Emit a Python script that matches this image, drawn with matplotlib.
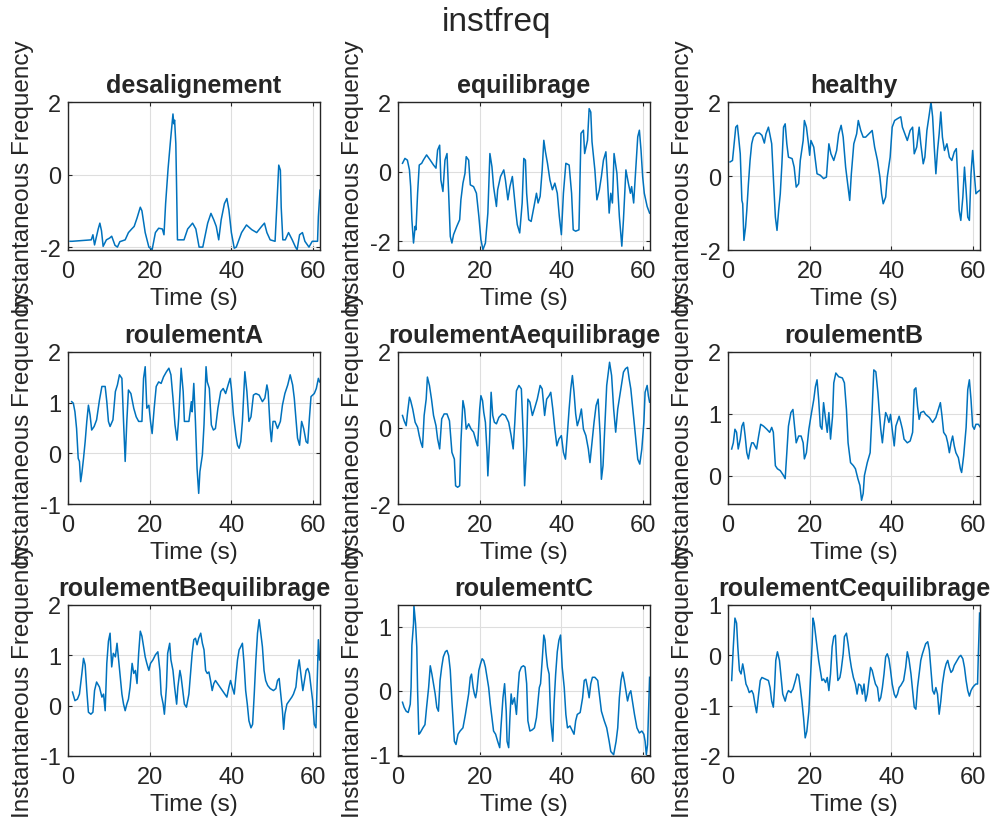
import matplotlib
matplotlib.use("Agg")
import matplotlib.pyplot as plt

# ===== data (time in s, instantaneous frequency) =====
desal_t = [0.5, 1.0, 5.7, 6.1, 6.5, 7.4, 7.8, 8.2, 8.6, 9.4, 10.2, 10.7, 11.5, 12.1, 12.7, 14.0, 14.8, 15.6, 16.2, 16.9,
           17.7, 18.1, 18.9, 19.8, 20.6, 21.4, 22.2, 23.1, 23.5, 23.9, 24.5, 25.1, 25.7, 25.9, 26.1, 26.4, 26.6, 26.8, 28.4, 29.3,
           30.5, 31.3, 32.1, 33.0, 34.2, 35.0, 35.7, 36.3, 36.9, 37.5, 38.3, 38.9, 39.4, 40.0, 40.7, 41.2, 42.5, 43.7, 45.0, 46.2,
           47.4, 48.1, 48.7, 49.5, 50.7, 51.2, 51.6, 52.0, 52.2, 52.6, 53.2, 54.0, 54.9, 55.7, 56.1, 56.7, 57.4, 58.0, 59.0, 59.8,
           61.1, 61.3, 61.7]
desal_v = [-1.84, -1.84, -1.80, -1.66, -1.94, -1.5, -1.34, -1.55, -1.98, -1.8, -1.75, -1.7, -1.95, -2.0, -1.85, -1.8, -1.6, -1.5, -1.43, -1.2,
           -0.9, -1.0, -1.6, -2.0, -2.07, -1.6, -1.48, -1.5, -1.66, -0.8, 0.16, 0.94, 1.67, 1.4, 1.5, 0.85, -0.43, -1.8, -1.8, -1.5,
           -1.34, -1.5, -2.0, -2.0, -1.34, -1.07, -1.25, -1.43, -1.8, -1.25, -0.8, -0.66, -0.98, -1.6, -2.03, -2.0, -1.6, -1.39, -1.52, -1.6,
           -1.43, -1.34, -1.6, -1.8, -1.84, -0.7, 0.26, 0.12, -0.9, -1.8, -1.8, -1.6, -1.8, -2.0, -2.07, -1.66, -1.6, -1.84, -2.0, -1.84,
           -1.84, -1.16, -0.43]

equil_t = [1.1, 1.7, 2.3, 2.8, 3.1, 3.4, 3.8, 4.2, 4.4, 4.8, 5.2, 5.8, 6.2, 7.0, 7.9, 8.7, 9.3, 9.7, 10.2, 10.5,
           11.0, 11.5, 12.0, 12.4, 12.8, 13.2, 13.6, 14.4, 15.1, 15.4, 15.9, 16.4, 16.7, 17.3, 17.7, 18.5, 19.2, 19.8, 20.3, 20.8,
           21.4, 22.0, 22.5, 23.0, 23.4, 24.1, 24.4, 25.1, 25.9, 26.3, 26.9, 27.4, 28.0, 28.4, 28.8, 29.2, 29.8, 30.4, 30.8, 31.2,
           31.5, 32.0, 32.6, 33.3, 33.9, 34.3, 34.8, 35.3, 35.7, 36.1, 36.6, 37.2, 37.8, 38.4, 39.0, 39.5, 40.0, 40.5, 41.1, 41.9,
           42.5, 42.9, 43.5, 44.3, 44.8, 45.4, 45.7, 46.4, 46.8, 47.2, 47.5, 48.2, 48.7, 49.3, 49.8, 50.3, 50.9, 51.3, 51.7, 52.1,
           52.5, 52.9, 53.6, 54.2, 54.8, 55.2, 55.8, 56.4, 56.9, 57.2, 57.7, 58.3, 58.7, 59.1, 59.5, 59.9, 60.3, 61.0, 61.6]
equil_v = [0.24, 0.38, 0.33, 0.05, -0.43, -1.38, -2.05, -1.57, -1.67, -0.62, 0.19, 0.24, 0.33, 0.48, 0.33, 0.19, 0.1, 0.62, 0.76, -0.24,
           -0.57, 0.33, 0.52, -0.62, -1.86, -2.05, -1.81, -1.57, -1.38, -0.81, -0.33, -0.05, 0.43, 0.33, -0.38, -0.43, -0.62, -1.29, -1.95, -2.24,
           -2.05, -1.19, 0.52, 0.14, -0.43, -1.0, -0.52, -0.14, 0.05, -0.24, -0.81, -0.43, -0.14, -0.62, -1.1, -1.52, -1.76, -0.9, 0.38, 0.33,
           -0.62, -1.38, -1.43, -1.0, -0.62, -0.9, -0.71, 0.05, 0.9, 0.57, 0.24, -0.24, -0.52, -0.33, -0.62, -1.29, -1.81, -0.62, 0.24, 0.19,
           -0.62, -1.67, -1.71, -1.67, 1.1, 1.19, 0.52, 0.9, 1.81, 1.71, 0.86, 0.05, -0.81, -0.52, -0.14, 0.33, 0.57, -0.24, -1.19, -0.62,
           -0.9, 0.52, -0.05, -1.29, -2.14, -1.38, 0.05, -0.33, -0.62, -0.43, -0.9, 0.24, 1.0, 1.19, 0.62, -0.14, -0.62, -1.0, -1.19]

healthy_t = [0.5, 1.1, 1.5, 1.9, 2.3, 2.6, 3.0, 3.4, 3.6, 3.9, 4.3, 4.6, 5.0, 5.4, 5.8, 6.2, 6.9, 7.7, 8.3, 8.9,
             9.3, 9.9, 10.3, 10.7, 11.1, 11.6, 12.0, 12.4, 12.8, 13.2, 13.6, 14.0, 14.4, 14.8, 15.7, 16.2, 16.7, 17.3, 17.7, 18.4,
             18.7, 19.2, 19.7, 20.0, 20.3, 21.0, 21.8, 22.6, 23.4, 24.1, 24.7, 25.2, 25.9, 26.6, 27.1, 27.7, 28.2, 28.8, 29.3, 29.8,
             30.2, 30.8, 31.5, 31.9, 32.5, 33.1, 33.7, 34.5, 35.3, 35.9, 36.6, 37.2, 37.6, 38.0, 38.6, 39.0, 39.7, 40.2, 40.8, 41.5,
             42.3, 42.7, 43.3, 43.9, 44.6, 45.2, 45.6, 46.2, 46.8, 47.2, 47.8, 48.2, 48.7, 49.3, 49.7, 50.1, 50.5, 50.9, 51.3, 51.7,
             52.1, 52.5, 53.0, 53.6, 54.2, 54.8, 55.4, 55.9, 56.2, 56.6, 57.0, 57.5, 57.9, 58.3, 58.7, 59.1, 59.5, 59.9, 60.3, 60.7,
             61.1, 61.6]
healthy_v = [0.38, 0.42, 0.87, 1.32, 1.37, 1.05, 0.6, -0.66, -0.75, -1.74, -1.38, -0.93, -0.21, 0.42, 0.87, 1.05, 1.16, 1.16, 1.1, 0.89,
             1.14, 1.32, 1.1, 0.87, -0.03, -1.11, -1.47, -0.93, -0.48, 0.33, 1.32, 1.41, 0.87, 0.51, 0.47, 0.24, -0.3, -0.21, 0.42, 0.96,
             1.5, 1.32, 0.87, 0.56, 0.96, 0.78, 0.06, 0.02, -0.07, -0.03, 0.87, 0.6, 0.42, 0.69, 1.14, 1.37, 1.05, 0.24, -0.21, -0.66,
             0.06, 0.87, 1.14, 1.5, 1.23, 1.05, 1.05, 1.14, 1.23, 0.78, 0.42, -0.03, -0.48, -0.75, -0.57, -0.03, 0.51, 1.32, 1.5, 1.55,
             1.6, 1.32, 1.14, 0.96, 1.23, 1.32, 0.6, 0.78, 1.32, 0.87, 0.33, 0.51, 1.23, 1.68, 2.0, 1.6, 0.78, 0.06, 0.69, 1.14,
             1.73, 1.05, 0.69, 0.87, 0.51, 0.42, 0.65, 0.74, 0.06, -0.93, -1.2, -0.57, 0.24, -0.39, -1.11, -1.2, 0.06, 0.69, 0.06, -0.48,
             -0.43, -0.39]

roulA_t = [0.9, 1.3, 1.7, 2.1, 2.5, 2.8, 3.1, 3.4, 3.8, 4.2, 4.6, 5.0, 5.4, 5.8, 6.4, 7.0, 7.7, 8.3, 9.1, 9.5,
           9.9, 10.3, 11.0, 11.6, 12.1, 12.6, 13.2, 13.6, 14.0, 14.4, 14.8, 15.4, 16.1, 16.7, 17.3, 18.1, 18.5, 18.9, 19.3, 19.8,
           20.2, 20.6, 21.1, 21.6, 22.2, 22.8, 23.4, 24.1, 24.7, 25.2, 25.7, 26.2, 26.7, 27.1, 27.7, 28.2, 28.5, 29.0, 29.6, 30.2,
           30.4, 30.8, 31.2, 31.6, 32.0, 32.3, 32.9, 33.3, 33.8, 34.1, 34.6, 35.1, 35.6, 36.1, 36.7, 37.4, 38.0, 38.6, 39.2, 39.7,
           40.0, 40.5, 41.1, 41.5, 41.9, 42.3, 42.7, 43.3, 43.8, 44.3, 44.8, 45.4, 46.0, 46.8, 47.6, 48.2, 48.7, 49.0, 49.5, 49.8,
           50.2, 50.7, 51.3, 52.0, 52.5, 53.1, 53.8, 54.4, 55.0, 55.4, 55.8, 56.2, 56.7, 57.2, 57.7, 58.3, 58.7, 59.1, 59.5, 60.3,
           60.8, 61.3, 61.6]
roulA_v = [1.02, 0.99, 0.82, 0.49, -0.1, -0.16, -0.56, -0.39, -0.1, 0.23, 0.63, 0.95, 0.76, 0.46, 0.53, 0.66, 1.05, 1.32, 1.32, 1.02,
           0.63, 0.53, 0.66, 1.22, 1.35, 1.55, 1.48, 0.63, -0.16, 0.63, 1.25, 1.18, 0.89, 0.72, 0.63, 0.63, 1.48, 1.71, 0.89, 0.95,
           0.63, 0.39, 0.89, 1.32, 1.41, 1.38, 1.51, 1.61, 1.68, 1.55, 1.09, 0.56, 0.26, 0.69, 1.68, 1.22, 0.63, 0.63, 0.63, 1.02,
           0.82, 1.38, 0.63, -0.3, -0.79, -0.36, -0.03, 0.56, 1.71, 1.41, 1.28, 0.56, 0.46, 0.49, 0.89, 1.22, 1.28, 1.18, 1.35, 1.48,
           1.28, 0.76, 0.36, 0.16, 0.1, 0.23, 0.63, 1.61, 1.22, 0.63, 0.72, 1.15, 1.18, 1.15, 1.02, 1.09, 1.35, 1.22, 0.49, 0.23,
           0.63, 0.63, 0.49, 0.63, 0.95, 1.18, 1.35, 1.55, 1.35, 1.09, 0.69, 0.3, 0.16, 0.63, 0.49, 0.23, 0.2, 0.69, 1.12, 1.18,
           1.28, 1.48, 1.41]

roulAeq_t = [1.1, 1.5, 2.0, 2.3, 2.8, 3.1, 3.6, 4.2, 4.8, 5.2, 5.6, 6.0, 6.4, 6.9, 7.2, 7.7, 8.2, 8.7, 9.3, 9.7,
             10.2, 10.7, 11.3, 12.0, 12.6, 13.2, 13.8, 14.1, 14.6, 15.1, 15.4, 15.9, 16.3, 16.7, 17.3, 17.9, 18.5, 19.2, 19.5, 20.0,
             20.3, 20.7, 21.0, 21.4, 21.8, 22.0, 22.4, 22.8, 23.2, 23.6, 24.1, 24.7, 25.5, 26.3, 27.1, 27.7, 28.2, 28.6, 29.0, 29.6,
             30.2, 30.7, 31.0, 31.5, 31.8, 32.3, 32.9, 33.4, 34.1, 34.8, 35.3, 35.9, 36.4, 37.0, 37.4, 37.9, 38.4, 38.9, 39.4, 40.0,
             40.5, 41.0, 41.5, 41.9, 42.3, 42.7, 43.1, 43.5, 43.9, 44.4, 44.9, 45.4, 46.0, 46.6, 47.0, 47.5, 48.0, 48.5, 49.0, 49.5,
             49.8, 50.2, 50.7, 51.1, 51.5, 51.8, 52.3, 52.8, 53.3, 53.8, 54.3, 54.8, 55.2, 55.7, 56.2, 56.6, 57.0, 57.5, 57.9, 58.3,
             58.7, 59.2, 59.7, 60.2, 60.5, 61.0, 61.3, 61.6]
roulAeq_v = [0.33, 0.19, 0.06, 0.37, 0.81, 0.72, 0.5, 0.15, 0.02, -0.2, -0.38, -0.51, 0.33, 0.76, 1.34, 1.12, 0.76, 0.33, 0.06, -0.29,
             -0.55, 0.24, 0.37, 0.37, 0.19, -0.64, -0.82, -1.52, -1.56, -1.52, -0.38, 0.72, 0.5, -0.03, 0.11, -0.03, -0.11, -0.38, -0.47, 0.5,
             0.85, 0.72, 0.41, 0.15, -0.64, -1.26, -0.38, 0.94, 0.33, 0.15, 0.11, 0.28, 0.37, 0.33, 0.15, -0.2, -0.55, 0.15, 0.98, 1.12,
             1.03, -0.29, -1.52, -0.47, 0.76, 0.68, 0.33, 0.5, 0.76, 1.12, 1.03, 0.33, 0.76, 0.85, 0.94, 0.5, -0.03, -0.47, -0.29, -0.2,
             -0.64, -0.82, -0.11, 0.5, 1.03, 1.38, 0.94, 0.37, 0.06, 0.24, 0.5, -0.03, -0.2, -0.55, -0.91, -0.38, 0.15, 0.59, 0.76, -0.2,
             -1.35, -0.99, 0.15, 1.12, 1.47, 1.73, 1.38, 0.5, -0.11, 0.5, 0.85, 1.2, 1.47, 1.56, 1.6, 1.29, 1.03, 0.5, 0.06, -0.38,
             -0.82, -0.95, -0.55, 0.15, 0.94, 1.12, 0.85, 0.68]

roulB_t = [0.9, 1.3, 1.7, 2.1, 2.5, 3.0, 3.4, 3.8, 4.2, 4.6, 5.0, 5.4, 5.8, 6.2, 6.6, 7.0, 7.5, 8.0, 8.7, 9.5,
           10.2, 10.7, 11.1, 11.6, 12.1, 12.8, 13.6, 14.0, 14.4, 14.8, 15.4, 15.9, 16.2, 16.7, 17.3, 17.9, 18.4, 18.7, 19.2, 19.8,
           20.3, 21.0, 21.4, 21.8, 22.2, 22.6, 23.0, 23.4, 23.9, 24.3, 24.7, 25.1, 25.6, 25.9, 26.4, 27.1, 28.0, 28.5, 29.0, 29.4,
           30.0, 30.7, 31.2, 31.8, 32.3, 32.7, 33.1, 33.4, 34.1, 34.8, 35.3, 35.7, 36.2, 36.7, 37.0, 37.4, 37.8, 38.2, 38.6, 39.0,
           39.4, 39.8, 40.2, 40.7, 41.1, 41.5, 41.9, 42.3, 42.7, 43.1, 43.9, 44.6, 45.2, 45.6, 46.0, 46.4, 46.8, 47.2, 47.9, 48.4,
           49.3, 50.1, 50.9, 51.5, 52.0, 52.4, 52.8, 53.4, 53.8, 54.2, 54.6, 55.0, 55.4, 55.8, 56.4, 56.9, 57.2, 57.7, 58.3, 58.7,
           59.1, 59.5, 59.9, 60.3, 60.7, 61.3, 61.8]
roulB_v = [0.43, 0.53, 0.75, 0.7, 0.43, 0.59, 0.8, 0.86, 0.64, 0.37, 0.27, 0.43, 0.53, 0.53, 0.48, 0.43, 0.64, 0.83, 0.8, 0.75,
           0.7, 0.78, 0.7, 0.16, 0.11, 0.08, 0.0, -0.05, 0.37, 0.8, 1.02, 1.07, 0.86, 0.53, 0.64, 0.64, 0.53, 0.27, 0.37, 0.75,
           0.96, 1.23, 1.44, 1.55, 1.23, 0.8, 0.75, 1.18, 0.91, 0.7, 1.02, 0.59, 0.96, 1.5, 1.66, 1.6, 1.58, 1.5, 1.07, 0.53,
           0.21, 0.16, 0.11, -0.05, -0.16, -0.4, -0.29, 0.0, 0.21, 0.37, 1.07, 1.71, 1.68, 1.34, 1.07, 0.75, 0.53, 0.8, 1.02, 0.96,
           0.86, 0.99, 0.75, 0.48, 0.8, 0.88, 0.96, 0.86, 0.75, 0.59, 0.53, 0.56, 0.7, 1.39, 1.42, 1.12, 0.91, 1.02, 1.04, 0.99,
           0.94, 0.86, 0.94, 1.07, 1.18, 0.96, 0.7, 0.64, 0.53, 0.37, 0.53, 0.64, 0.48, 0.37, 0.29, 0.11, 0.05, 0.32, 0.78, 1.39,
           1.55, 1.23, 0.8, 0.75, 0.83, 0.83, 0.78]

roulBeq_t = [1.1, 1.7, 2.3, 2.8, 3.4, 3.8, 4.2, 4.6, 5.0, 5.6, 6.1, 6.5, 7.0, 7.7, 8.3, 8.7, 9.1, 9.5, 9.9, 10.3,
             10.7, 11.1, 11.6, 12.0, 12.4, 12.8, 13.2, 13.6, 14.0, 14.4, 14.8, 15.2, 15.7, 16.1, 16.5, 16.9, 17.3, 17.7, 18.1, 18.5,
             18.9, 19.3, 19.8, 20.2, 20.8, 21.4, 22.0, 22.5, 22.8, 23.3, 23.6, 24.1, 24.4, 24.9, 25.2, 25.7, 26.1, 26.6, 26.9, 27.4,
             27.7, 28.2, 28.5, 29.0, 29.6, 30.0, 30.4, 30.8, 31.2, 31.6, 32.0, 32.5, 32.9, 33.3, 33.7, 34.1, 34.5, 34.9, 35.3, 35.7,
             36.1, 36.6, 37.2, 37.8, 38.4, 38.9, 39.4, 39.8, 40.2, 40.7, 41.1, 41.5, 41.9, 42.3, 42.7, 43.1, 43.5, 43.9, 44.3, 44.8,
             45.2, 45.6, 46.0, 46.4, 46.8, 47.2, 47.6, 48.0, 48.4, 48.9, 49.5, 50.3, 50.9, 51.3, 51.7, 52.1, 52.5, 52.8, 53.1, 53.6,
             54.2, 54.8, 55.2, 55.8, 56.2, 56.6, 57.0, 57.5, 57.9, 58.3, 58.7, 59.1, 59.5, 59.9, 60.3, 60.7, 61.0, 61.3, 61.6]
roulBeq_v = [0.27, 0.1, 0.13, 0.23, 0.64, 0.94, 0.81, 0.3, -0.13, -0.17, -0.13, 0.3, 0.47, 0.37, 0.17, 0.23, -0.1, 0.84, 1.28, 1.44,
             0.77, 1.04, 0.97, 1.24, 0.91, 0.57, 0.23, 0.03, -0.1, 0.03, 0.13, 0.37, 0.84, 0.64, 0.7, 0.44, 1.04, 1.48, 1.38, 1.17,
             0.97, 0.84, 0.7, 0.84, 0.91, 1.01, 1.07, 0.7, 0.23, 0.03, -0.17, 0.37, 1.04, 1.24, 0.91, 0.7, 0.37, 0.03, 0.37, 0.7,
             0.57, 0.23, 0.03, -0.03, 0.23, 0.64, 1.04, 1.31, 1.34, 1.21, 1.34, 1.44, 1.24, 1.11, 0.7, 0.64, 0.67, 0.5, 0.3, 0.44,
             0.5, 0.44, 0.37, 0.3, 0.23, 0.17, 0.37, 0.5, 0.37, 0.23, 0.57, 0.91, 1.11, 1.17, 1.24, 0.84, 0.3, 0.03, -0.3, -0.44,
             -0.37, 0.23, 0.91, 1.44, 1.71, 1.44, 1.17, 0.7, 0.5, 0.4, 0.34, 0.3, 0.34, 0.5, 0.54, 0.23, -0.1, -0.47, -0.17, 0.03,
             0.1, 0.17, 0.23, 0.37, 0.7, 0.91, 0.64, 0.3, 0.5, 0.7, 0.74, 0.64, 0.37, 0.1, -0.37, -0.44, 0.44, 1.31, 0.91]

roulC_t = [1.1, 1.5, 2.0, 2.5, 3.0, 3.2, 3.4, 3.8, 3.9, 4.3, 4.6, 4.8, 5.1, 5.4, 6.1, 6.6, 7.0, 7.5, 7.9, 8.3,
           8.7, 9.1, 9.5, 9.9, 10.3, 10.7, 11.1, 11.6, 12.0, 12.4, 12.8, 13.2, 13.8, 14.2, 14.7, 15.2, 15.9, 16.5, 16.9, 17.3,
           17.7, 18.0, 18.4, 18.7, 19.0, 19.3, 19.8, 20.2, 20.6, 21.0, 21.4, 21.8, 22.2, 22.6, 23.0, 23.4, 23.9, 24.4, 24.9, 25.2,
           25.7, 25.9, 26.1, 26.5, 26.7, 27.1, 27.4, 27.7, 28.0, 28.5, 29.0, 29.3, 29.7, 30.2, 30.7, 31.1, 31.5, 31.8, 32.3, 32.9,
           33.4, 33.9, 34.3, 34.6, 34.9, 35.3, 35.7, 36.0, 36.2, 36.6, 37.0, 37.4, 37.9, 38.2, 38.6, 39.0, 39.4, 39.8, 40.2, 40.7,
           41.1, 41.5, 42.1, 42.7, 43.1, 43.5, 43.9, 44.6, 45.2, 45.6, 46.0, 46.4, 46.8, 47.2, 47.6, 48.2, 48.9, 49.3, 49.8, 50.5,
           51.1, 51.7, 52.1, 52.8, 53.4, 53.8, 54.2, 54.6, 55.0, 55.4, 55.8, 56.2, 56.6, 57.0, 57.5, 57.9, 58.5, 59.1, 59.7, 60.2,
           60.5, 60.8, 61.1, 61.3, 61.6]
roulC_v = [-0.18, -0.26, -0.32, -0.34, -0.21, 0.05, 0.71, 1.05, 1.33, 1.05, 0.68, 0.0, -0.68, -0.66, -0.58, -0.53, -0.26, 0.05, 0.39, 0.26,
           0.11, -0.05, -0.26, -0.32, 0.16, 0.37, 0.53, 0.61, 0.63, 0.55, 0.32, -0.16, -0.79, -0.84, -0.68, -0.63, -0.58, -0.37, -0.21, -0.05,
           0.21, 0.26, 0.05, -0.05, -0.11, 0.0, 0.32, 0.42, 0.5, 0.47, 0.37, 0.21, 0.05, -0.21, -0.42, -0.63, -0.68, -0.79, -0.89, -0.58,
           -0.11, 0.0, 0.11, -0.32, -0.79, -0.89, -0.42, -0.05, -0.21, -0.11, -0.37, -0.05, 0.29, 0.37, 0.39, 0.37, 0.11, -0.47, -0.63, -0.61,
           -0.58, -0.42, -0.16, 0.05, 0.11, 0.47, 0.87, 0.79, 0.61, 0.37, 0.26, -0.47, -0.79, -0.21, 0.26, 0.61, 0.79, 0.87, 0.37, 0.05,
           -0.37, -0.58, -0.55, -0.63, -0.68, -0.47, -0.37, -0.34, -0.11, 0.16, 0.18, 0.05, -0.11, 0.11, 0.21, 0.21, 0.16, -0.05, -0.32, -0.47,
           -0.58, -0.79, -0.95, -1.0, -0.79, -0.58, -0.11, 0.16, 0.29, 0.16, 0.0, -0.16, -0.05, 0.0, -0.21, -0.37, -0.58, -0.66, -0.63, -0.68,
           -0.79, -1.0, -0.84, -0.42, 0.21]

roulCeq_t = [0.9, 1.3, 1.7, 2.1, 2.4, 2.8, 3.2, 3.6, 3.9, 4.4, 4.8, 5.2, 5.8, 6.2, 6.6, 7.0, 7.5, 7.9, 8.3, 9.1,
             9.9, 10.3, 10.7, 11.1, 11.4, 11.7, 12.1, 12.6, 13.0, 13.4, 14.0, 14.4, 14.8, 15.4, 15.9, 16.5, 16.9, 17.3, 17.7, 18.1,
             18.5, 18.9, 19.3, 19.8, 20.2, 20.6, 20.8, 21.1, 21.5, 21.8, 22.2, 22.6, 23.0, 23.4, 23.9, 24.3, 24.7, 25.1, 25.5, 25.9,
             26.3, 26.6, 26.9, 27.4, 27.7, 28.2, 28.5, 29.0, 29.4, 29.8, 30.2, 30.7, 31.2, 31.6, 32.0, 32.5, 32.9, 33.3, 33.7, 34.1,
             34.5, 34.9, 35.3, 35.7, 36.1, 36.6, 37.0, 37.4, 37.8, 38.2, 38.6, 39.0, 39.4, 39.8, 40.2, 40.7, 41.1, 41.5, 41.9, 42.3,
             43.0, 43.5, 43.9, 44.3, 44.8, 45.2, 45.6, 46.0, 46.4, 46.8, 47.2, 47.6, 48.0, 48.4, 48.9, 49.3, 49.7, 50.1, 50.5, 50.9,
             51.3, 51.7, 52.1, 52.5, 53.0, 53.4, 53.8, 54.2, 54.6, 55.0, 55.4, 56.1, 56.6, 57.0, 57.5, 57.9, 58.3, 58.7, 59.1, 59.5,
             59.9, 60.3, 60.7, 61.1, 61.3, 61.6]
roulCeq_v = [-0.5, 0.17, 0.74, 0.64, 0.17, -0.3, -0.37, -0.17, -0.3, -0.57, -0.64, -0.74, -0.7, -0.77, -0.97, -1.14, -0.77, -0.5, -0.44, -0.47,
             -0.5, -0.64, -0.91, -1.03, -0.64, -0.1, 0.07, -0.1, -0.44, -0.77, -0.91, -0.77, -0.7, -0.74, -0.67, -0.5, -0.37, -0.4, -0.64, -0.91,
             -1.24, -1.64, -1.51, -1.11, -0.44, 0.23, 0.74, 0.64, 0.37, 0.17, -0.1, -0.3, -0.5, -0.47, -0.54, -0.44, -0.7, -0.37, 0.17, 0.37,
             0.4, -0.1, -0.5, -0.44, -0.3, 0.03, 0.37, 0.44, 0.23, -0.03, -0.24, -0.44, -0.57, -0.77, -0.57, -0.6, -0.77, -0.57, -0.91, -0.77,
             -0.5, -0.24, -0.3, -0.44, -0.57, -0.64, -0.91, -0.84, -0.64, -0.37, -0.03, 0.03, -0.07, -0.3, -0.57, -0.77, -0.84, -0.77, -0.64, -0.6,
             -0.5, -0.24, 0.07, -0.07, -0.37, -0.7, -1.03, -1.07, -0.64, -0.37, -0.1, 0.03, 0.13, 0.23, 0.27, 0.1, -0.3, -0.7, -0.77, -0.64,
             -0.77, -1.17, -0.91, -0.57, -0.3, -0.17, -0.1, -0.24, -0.34, -0.3, -0.2, -0.1, -0.03, 0.0, -0.07, -0.24, -0.5, -0.7, -0.81, -0.7,
             -0.64, -0.6, -0.57, -0.57, 0.03, 0.84]

titles = ["desalignement", "equilibrage", "healthy",
          "roulementA", "roulementAequilibrage", "roulementB",
          "roulementBequilibrage", "roulementC", "roulementCequilibrage"]
series = [(desal_t, desal_v), (equil_t, equil_v), (healthy_t, healthy_v),
          (roulA_t, roulA_v), (roulAeq_t, roulAeq_v), (roulB_t, roulB_v),
          (roulBeq_t, roulBeq_v), (roulC_t, roulC_v), (roulCeq_t, roulCeq_v)]
ylims = [(-2.08, 2), (-2.25, 2), (-2, 2),
         (-1, 2), (-2, 2), (-0.46, 2),
         (-1, 2), (-1.02, 1.34), (-2, 1)]
yticks = [[-2, 0, 2], [-2, 0, 2], [-2, 0, 2],
          [-1, 0, 1, 2], [-2, 0, 2], [0, 1, 2],
          [-1, 0, 1, 2], [-1, 0, 1], [-2, -1, 0, 1]]
xticks = [0, 20, 40, 60]

# ===== style (MATLAB look) =====
plt.rcParams['font.family'] = ['Liberation Sans', 'DejaVu Sans']
plt.rcParams['axes.unicode_minus'] = False
TXT = "#262626"
LINE = "#0072BD"

W, H = 994, 828
fig = plt.figure(figsize=(W / 100, H / 100), dpi=100)
fig.text(0.5, 1 - 23 / H, "instfreq", ha="center", va="center", fontsize=24, color=TXT)

col_left = [68, 398, 728]
row_top = [103, 353, 606]
row_bot = [251, 505, 757]
ax_w = 252

for i, (title, (t, v)) in enumerate(zip(titles, series)):
    r, c = divmod(i, 3)
    ax = fig.add_axes([col_left[c] / W, 1 - row_bot[r] / H, ax_w / W, (row_bot[r] - row_top[r]) / H])
    ax.plot(t, v, color=LINE, lw=1.1)
    ax.set_xlim(0, 61.7)
    ax.set_ylim(*ylims[i])
    ax.set_xticks(xticks)
    ax.set_yticks(yticks[i])
    ax.grid(True, color="#dedede", lw=0.8)
    ax.set_axisbelow(True)
    for s in ax.spines.values():
        s.set_color(TXT)
        s.set_linewidth(1.0)
    ax.tick_params(direction="in", length=3, width=0.8, top=True, right=True,
                   labelsize=17, colors=TXT)
    ax.tick_params(axis="x", pad=7)
    ax.tick_params(axis="y", pad=5)
    ax.set_title(title, fontsize=18, fontweight="bold", color=TXT, pad=7)
    ax.set_xlabel("Time (s)", fontsize=17.5, color=TXT, labelpad=4)
    ax.set_ylabel("Instantaneous Frequency", fontsize=17.5, color=TXT)
    ax.yaxis.set_label_coords(-34 / ax_w, 0.5)

fig.savefig("out.png", dpi=100)
